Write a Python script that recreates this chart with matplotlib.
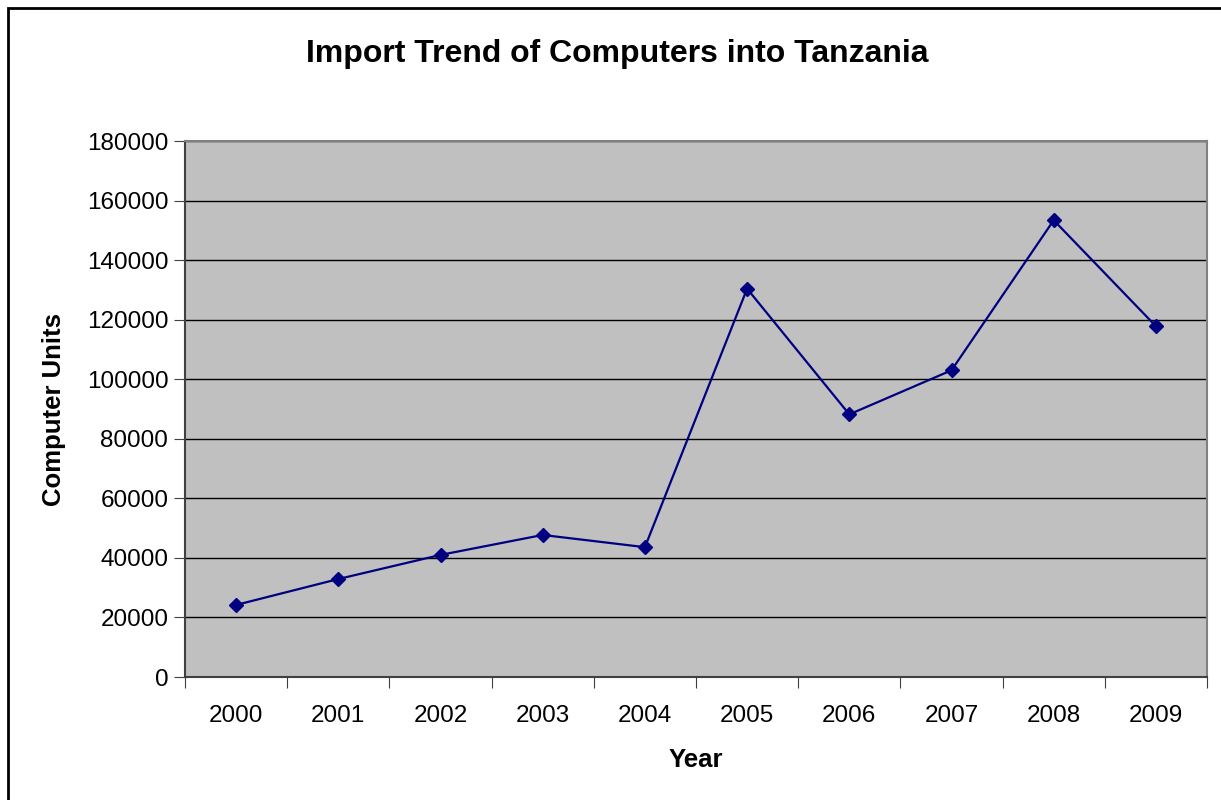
import matplotlib.pyplot as plt
from matplotlib.patches import Rectangle
from matplotlib.ticker import FixedLocator, NullFormatter

plt.rcParams['font.family'] = ['Liberation Sans', 'DejaVu Sans']

# Data
years = ['2000', '2001', '2002', '2003', '2004', '2005', '2006', '2007', '2008', '2009']
units = [24200, 32900, 41000, 47700, 43600, 130400, 88200, 103000, 153400, 117800]

fig = plt.figure(figsize=(12.21, 8), dpi=100)
ax = fig.add_axes([185 / 1221, 123 / 800, 1022 / 1221, 536 / 800])

# Outer chart border
fig.patches.append(Rectangle((8 / 1221, -0.01), 1.02, 0.01 + 792 / 800,
                             transform=fig.transFigure, fill=False,
                             edgecolor='black', linewidth=2))

x = list(range(len(years)))
ax.set_facecolor('#C0C0C0')
ax.plot(x, units, color='#000080', linewidth=1.6, marker='D', markersize=7.5)

ax.set_xlim(-0.5, len(years) - 0.5)
ax.set_ylim(0, 180000)
ax.set_yticks(range(0, 180001, 20000))
ax.yaxis.grid(True, color='black', linewidth=1)
ax.set_axisbelow(True)

# category ticks between the labels, labels in the middle
ax.xaxis.set_major_locator(FixedLocator([i - 0.5 for i in range(len(years) + 1)]))
ax.xaxis.set_major_formatter(NullFormatter())
ax.xaxis.set_minor_locator(FixedLocator(x))
ax.set_xticklabels(years, minor=True)
ax.tick_params(axis='x', which='minor', length=0, pad=20, labelsize=17.5)
ax.tick_params(axis='x', which='major', length=8, direction='out', color='#404040')
ax.tick_params(axis='y', length=8, direction='out', pad=4, labelsize=17.5, color='#404040')

for side in ['top', 'right']:
    ax.spines[side].set_color('#808080')
    ax.spines[side].set_linewidth(1.5)
for side in ['left', 'bottom']:
    ax.spines[side].set_color('#404040')
    ax.spines[side].set_linewidth(1.5)

fig.text(617 / 1221, 1 - 54 / 800, 'Import Trend of Computers into Tanzania',
         ha='center', va='center', fontsize=23, fontweight='bold')
fig.text(54 / 1221, 1 - 409 / 800, 'Computer Units', rotation=90,
         ha='center', va='center', fontsize=18.5, fontweight='bold')
fig.text(696 / 1221, 1 - 760 / 800, 'Year',
         ha='center', va='center', fontsize=18.5, fontweight='bold')

fig.savefig('out.png', dpi=100)
